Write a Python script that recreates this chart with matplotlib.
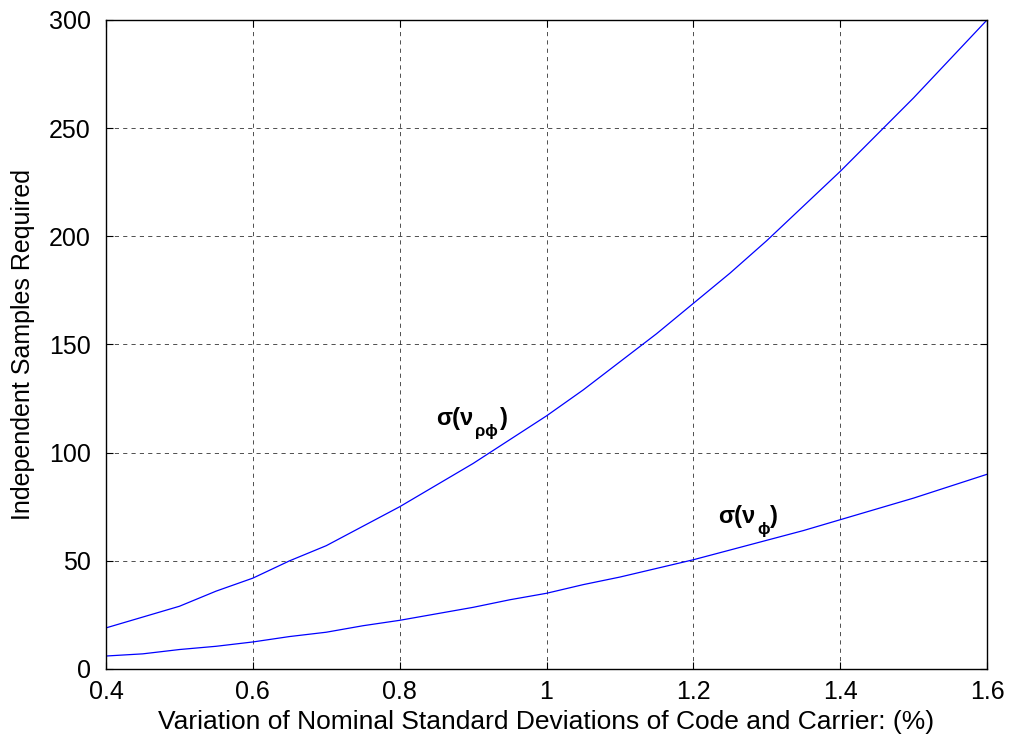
import matplotlib
matplotlib.use('Agg')
import matplotlib.pyplot as plt
import numpy as np

plt.rcParams['font.family'] = ['Liberation Sans', 'DejaVu Sans']

x = [0.40, 0.45, 0.50, 0.55, 0.60, 0.65, 0.70, 0.75, 0.80, 0.85, 0.90, 0.95, 1.00,
     1.05, 1.10, 1.15, 1.20, 1.25, 1.30, 1.35, 1.40, 1.45, 1.50, 1.55, 1.60]
rho_phi = [19, 24, 29, 36, 42, 50, 57, 66, 75, 85, 95, 106, 117,
           129, 142, 155, 169, 183, 198, 214, 230, 247, 264, 282, 300]
phi = [6, 7, 9, 10.5, 12.5, 15, 17, 20, 22.5, 25.5, 28.5, 32, 35,
       39, 42.5, 46.5, 50.5, 55, 59.5, 64, 69, 74, 79, 84.5, 90]
xticks = [0.4, 0.6, 0.8, 1.0, 1.2, 1.4, 1.6]
xticklabels = ['0.4', '0.6', '0.8', '1', '1.2', '1.4', '1.6']
yticks = [0, 50, 100, 150, 200, 250, 300]

fig = plt.figure(figsize=(10.09, 7.38), dpi=100)
ax = fig.add_axes([106/1009, 1-669/738, (987-106)/1009, (669-20)/738])

ax.plot(x, rho_phi, color='blue', lw=0.9)
ax.plot(x, phi, color='blue', lw=0.9)

ax.set_xlim(0.4, 1.6)
ax.set_ylim(0, 300)
ax.set_xticks(xticks)
ax.set_xticklabels(xticklabels)
ax.set_yticks(yticks)
ax.tick_params(direction='in', labelsize=18, length=5, top=True, right=True)
ax.tick_params(axis='x', pad=8)
ax.tick_params(axis='y', pad=11)
ax.grid(True, color='black', linestyle=(0, (5, 5)), lw=0.6, alpha=0.8)
for s in ax.spines.values():
    s.set_linewidth(1.0)

ax.set_xlabel('Variation of Nominal Standard Deviations of Code and Carrier: (%)',
              fontsize=19, labelpad=4)
ax.set_ylabel('Independent Samples Required', fontsize=18, labelpad=10)

# curve labels
ax.text(0.85, 116, 'σ(ν', fontsize=17, fontweight='bold', ha='left', va='center')
ax.text(0.9026, 110, 'ρϕ', fontsize=12, fontweight='bold', ha='left', va='center')
ax.text(0.9367, 116, ')', fontsize=17, fontweight='bold', ha='left', va='center')

ax.text(1.2336, 70.7, 'σ(ν', fontsize=17, fontweight='bold', ha='left', va='center')
ax.text(1.2867, 64.3, 'ϕ', fontsize=12, fontweight='bold', ha='left', va='center')
ax.text(1.3044, 70.7, ')', fontsize=17, fontweight='bold', ha='left', va='center')

fig.savefig('out.png', dpi=100)
